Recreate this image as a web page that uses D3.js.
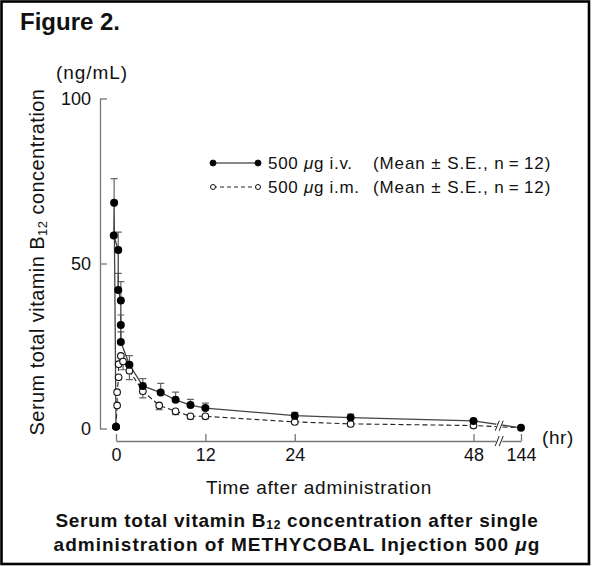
<!DOCTYPE html>
<html>
<head>
<meta charset="utf-8">
<script src="https://cdn.jsdelivr.net/npm/d3@7"></script>
<style>
  body { margin: 0; background: #fff; }
  svg text { font-family: "Liberation Sans", Arial, Helvetica, sans-serif; fill: #111; }
</style>
</head>
<body>
<svg id="chart" width="592" height="566"></svg>
<script>
'use strict';

// i.v. series (hours, ng/mL, S.E.)
var ivHours = [0, -0.25, -0.3, 0.3, 0.3, 0.65, 0.65, 0.65, 1.8, 3.6, 6, 8, 10, 12, 24, 31.5, 48, 144];
var ivConc  = [0.5, 68.4, 58.5, 54.1, 42.0, 38.8, 31.4, 26.2, 19.3, 12.9, 10.9, 8.7, 7.1, 6.2, 3.9, 3.3, 2.3, 0.2];
var ivSE    = [0, 7.3, 0, 5.4, 5.0, 5.7, 3.0, 3.1, 2.8, 2.2, 2.8, 2.3, 1.7, 1.5, 1.0, 1.1, 0, 0];

// i.m. series
var imHours = [0, 0.15, 0.15, 0.35, 0.35, 0.65, 0.95, 1.8, 3.6, 5.8, 8, 10, 12, 24, 31.5, 48, 144];
var imConc  = [0.5, 7.0, 11.0, 15.5, 19.5, 22.0, 20.3, 17.5, 11.3, 7.0, 5.2, 3.7, 3.7, 2.0, 1.4, 0.9, 0.2];
var imSE    = [0, 0, 0, 0, 0, 0, 2.5, 2.7, 2.0, 1.3, 1.0, 0.8, 0.8, 0, 0, 0, 0];

var yTicks = [0, 50, 100];
var xTicks = [0, 12, 24, 48, 144];
var breakHour = 100;

var svg = d3.select('#chart');

// frame
svg.append('rect')
    .attr('x', 1.5).attr('y', 1.5)
    .attr('width', 587.5).attr('height', 562.5)
    .attr('fill', 'none').attr('stroke', '#000').attr('stroke-width', 2.6);

svg.append('text')
    .attr('x', 20).attr('y', 30)
    .style('font-size', '24px').style('font-weight', 'bold')
    .text('Figure 2.');

var x = d3.scaleLinear().domain([0, 48, 144]).range([116, 473.5, 521]);
var y = d3.scaleLinear().domain([0, 100]).range([428.5, 98.5]);

var axisColor = '#777';

// y axis, ticks pointing inward
var yAxis = svg.append('g')
    .attr('transform', 'translate(100,0)')
    .call(d3.axisLeft(y).tickValues(yTicks).tickSize(-7).tickSizeOuter(0).tickPadding(9));
yAxis.selectAll('path, line').attr('stroke', axisColor).attr('stroke-width', 1.3);
yAxis.selectAll('text').style('font-size', '18px').attr('fill', '#111');

// x axis, offset below
var xAxis = svg.append('g')
    .attr('transform', 'translate(0,441)')
    .call(d3.axisBottom(x).tickValues(xTicks).tickSize(-7).tickSizeOuter(0).tickPadding(7));
xAxis.selectAll('path, line').attr('stroke', axisColor).attr('stroke-width', 1.3);
xAxis.selectAll('text').style('font-size', '18px').attr('fill', '#111');

function breakMark(g, cx, cy) {
    g.append('rect')
        .attr('x', cx - 3).attr('y', cy - 2)
        .attr('width', 6).attr('height', 4)
        .attr('fill', '#fff');
    [-2, 2].forEach(function(dx) {
        g.append('line')
            .attr('x1', cx + dx - 2).attr('y1', cy + 5)
            .attr('x2', cx + dx + 2).attr('y2', cy - 5)
            .attr('stroke', '#222').attr('stroke-width', 1);
    });
}
breakMark(svg.append('g'), x(breakHour), 441);

svg.append('text')
    .attr('x', 542).attr('y', 444)
    .style('font-size', '19px').style('letter-spacing', '0.6px')
    .text('(hr)');

// axis titles
svg.append('text')
    .attr('x', 92).attr('y', 79)
    .attr('text-anchor', 'middle')
    .style('font-size', '19px').style('letter-spacing', '0.9px')
    .text('(ng/mL)');

var yTitle = svg.append('text')
    .attr('transform', 'translate(44,262) rotate(-90)')
    .attr('text-anchor', 'middle')
    .style('font-size', '20px').style('letter-spacing', '0.45px');
yTitle.append('tspan').text('Serum total vitamin B');
yTitle.append('tspan').style('font-size', '13px').attr('dy', 3).text('12');
yTitle.append('tspan').attr('dy', -3).text(' concentration');

svg.append('text')
    .attr('x', 319).attr('y', 494)
    .attr('text-anchor', 'middle')
    .style('font-size', '19px').style('letter-spacing', '0.7px')
    .text('Time after administration');

var cap1 = svg.append('text')
    .attr('x', 297).attr('y', 527)
    .attr('text-anchor', 'middle')
    .style('font-size', '19px').style('font-weight', 'bold').style('letter-spacing', '0.74px');
cap1.append('tspan').text('Serum total vitamin B');
cap1.append('tspan').style('font-size', '12px').attr('dy', 2).text('12');
cap1.append('tspan').attr('dy', -2).text(' concentration after single');

var cap2 = svg.append('text')
    .attr('x', 297).attr('y', 551)
    .attr('text-anchor', 'middle')
    .style('font-size', '19px').style('font-weight', 'bold').style('letter-spacing', '1px');
cap2.append('tspan').text('administration of METHYCOBAL Injection 500 ');
cap2.append('tspan').style('font-style', 'italic').text('\u03bc');
cap2.append('tspan').text('g');

// data
function toPoints(hours, conc, se) {
    return hours.map(function(h, i) { return { h: h, v: conc[i], se: se[i] }; });
}
var ivData = toPoints(ivHours, ivConc, ivSE);
var imData = toPoints(imHours, imConc, imSE);

var line = d3.line()
    .x(function(d) { return x(d.h); })
    .y(function(d) { return y(d.v); });

var plot = svg.append('g');

// i.m. error bars (downward)
plot.selectAll('.im-err')
    .data(imData.filter(function(d) { return d.se > 0; }))
    .enter().append('path')
    .attr('d', function(d) {
        var cx = x(d.h), y0 = y(d.v), y1 = y(d.v - d.se);
        return 'M' + cx + ',' + y0 + 'V' + y1 + 'M' + (cx - 3.5) + ',' + y1 + 'H' + (cx + 3.5);
    })
    .attr('stroke', '#666').attr('stroke-width', 1.2).attr('fill', 'none');

// i.v. error bars (upward)
plot.selectAll('.iv-err')
    .data(ivData.filter(function(d) { return d.se > 0; }))
    .enter().append('path')
    .attr('d', function(d) {
        var cx = x(d.h), y0 = y(d.v), y1 = y(d.v + d.se);
        return 'M' + cx + ',' + y0 + 'V' + y1 + 'M' + (cx - 3.5) + ',' + y1 + 'H' + (cx + 3.5);
    })
    .attr('stroke', '#666').attr('stroke-width', 1.2).attr('fill', 'none');

plot.append('path')
    .datum(imData)
    .attr('d', line)
    .attr('fill', 'none').attr('stroke', '#222').attr('stroke-width', 1.1)
    .attr('stroke-dasharray', '5,3');

plot.append('path')
    .datum(ivData)
    .attr('d', line)
    .attr('fill', 'none').attr('stroke', '#444').attr('stroke-width', 1.3);

plot.selectAll('.im-pt')
    .data(imData.slice(0, imData.length - 1))
    .enter().append('circle')
    .attr('cx', function(d) { return x(d.h); })
    .attr('cy', function(d) { return y(d.v); })
    .attr('r', 3.3)
    .attr('fill', '#fff').attr('stroke', '#111').attr('stroke-width', 1.1);

plot.selectAll('.iv-pt')
    .data(ivData)
    .enter().append('circle')
    .attr('cx', function(d) { return x(d.h); })
    .attr('cy', function(d) { return y(d.v); })
    .attr('r', 4)
    .attr('fill', '#000');

// break on the data lines
var ivB = ivConc[ivConc.length - 2] + (ivConc[ivConc.length - 1] - ivConc[ivConc.length - 2]) * (breakHour - 48) / 96;
var imB = imConc[imConc.length - 2] + (imConc[imConc.length - 1] - imConc[imConc.length - 2]) * (breakHour - 48) / 96;
breakMark(svg.append('g'), x(breakHour), y((ivB + imB) / 2));

// legend
var legend = svg.append('g');
var rows = [
    { y: 163, filled: true, dash: null, name: 'i.v.' },
    { y: 187, filled: false, dash: '4,3', name: 'i.m.' }
];
rows.forEach(function(r) {
    legend.append('line')
        .attr('x1', 213).attr('x2', 258).attr('y1', r.y).attr('y2', r.y)
        .attr('stroke', r.filled ? '#888' : '#222')
        .attr('stroke-width', r.filled ? 2 : 1)
        .attr('stroke-dasharray', r.dash);
    [213, 258].forEach(function(cx) {
        legend.append('circle')
            .attr('cx', cx).attr('cy', r.y)
            .attr('r', r.filled ? 3 : 2.5)
            .attr('fill', r.filled ? '#000' : '#fff')
            .attr('stroke', '#111').attr('stroke-width', 1);
    });
    var t = legend.append('text')
        .attr('x', 268).attr('y', r.y + 6)
        .style('font-size', '17px').style('letter-spacing', '0.7px');
    t.append('tspan').text('500 ');
    t.append('tspan').style('font-style', 'italic').text('\u03bc');
    t.append('tspan').text('g ' + r.name);
    legend.append('text')
        .attr('x', 373).attr('y', r.y + 6)
        .style('font-size', '17px').style('letter-spacing', '0.9px')
        .text('(Mean \u00b1 S.E., n\u2009=\u200912)');
});
</script>
</body>
</html>
